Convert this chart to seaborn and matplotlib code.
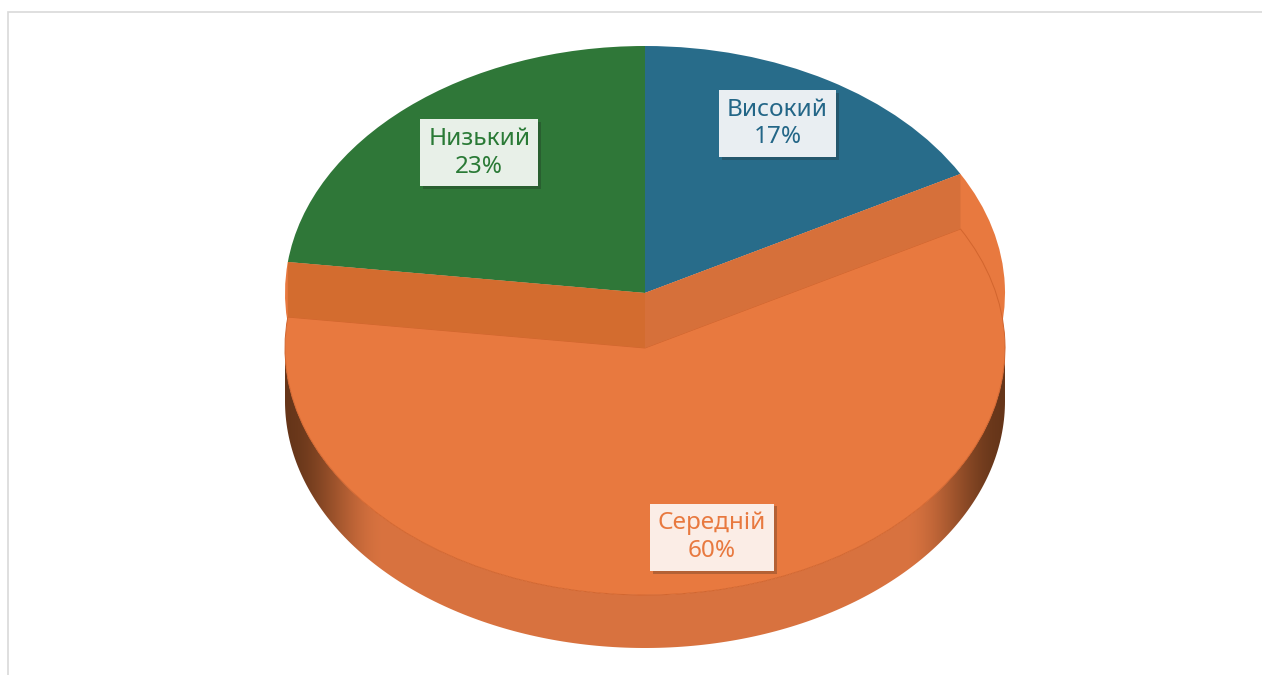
import numpy as np
import matplotlib
matplotlib.use("Agg")
import matplotlib.pyplot as plt
import matplotlib.patheffects as pe
from matplotlib.path import Path
from matplotlib.patches import PathPatch, Rectangle, Polygon
import seaborn as sns

# ---- data ----
categories = ["Високий", "Середній", "Низький"]
shares = [17, 60, 23]
pct_labels = ["17%", "60%", "23%"]

# ---- style ----
top_colors = ["#286C8A", "#E8793F", "#2F7738"]
band_colors = ["#D36C2F", "#D6703A"]
text_colors = ["#236687", "#E8793F", "#2A7A36"]
box_colors = ["#E9EEF2", "#FBEDE6", "#E8F0E8"]
label_nudge_px = [(-3, -12), (0, 0), (8, -5)]

sns.set_theme(style="white")
plt.rcParams["font.family"] = ["Noto Sans", "DejaVu Sans"]

W, H, DPI = 1262, 675, 100
fig = plt.figure(figsize=(W / DPI, H / DPI), dpi=DPI)
ax = fig.add_axes([0, 0, 1, 1])

# pixel geometry of the ellipse (top face)
cx, cy, rx, ry = 645, 293, 360, 247
drop = 55 / ry          # explode of the middle slice (downwards)
depth = 53 / ry         # thickness of the disc

# side wall of the exploded slice with horizontal shading
t = np.linspace(np.pi, 2 * np.pi, 200)
xs = np.cos(t)
upper = np.column_stack([xs, np.sin(t) - drop])
lower = np.column_stack([xs[::-1], np.sin(t[::-1]) - drop - depth])
verts = np.vstack([upper, lower, upper[:1]])
codes = [Path.MOVETO] + [Path.LINETO] * (len(verts) - 2) + [Path.CLOSEPOLY]
side = PathPatch(Path(verts, codes), facecolor="none", edgecolor="none")
ax.add_patch(side)
gx = np.linspace(-1, 1, 600)
u = np.clip((1 - np.abs(gx)) / 0.28, 0, 1)
f = u * u * (3 - 2 * u)
dark = np.array([0.40, 0.21, 0.10])
light = np.array([0.85, 0.45, 0.25])
grad = dark[None, :] + (light - dark)[None, :] * f[:, None]
img = ax.imshow(grad[None, :, :], extent=[-1, 1, -1 - drop - depth, -drop],
                aspect="auto", zorder=1, interpolation="bilinear")
img.set_clip_path(side)

# slices in place
ax.pie(shares, startangle=90, counterclock=False, radius=1, center=(0, 0),
       colors=top_colors, wedgeprops=dict(linewidth=0, zorder=2), frame=False)

# exploded top face of the middle slice
w2, _ = ax.pie(shares, startangle=90, counterclock=False, radius=1,
               center=(0, -drop), colors=["none", top_colors[1], "none"],
               wedgeprops=dict(linewidth=0, zorder=3), frame=False)
w2[1].set_edgecolor("#D2652E")
w2[1].set_linewidth(0.7)
for i in (0, 2):
    w2[i].set_visible(False)

# radial walls swept by the explode (dark bands)
bounds = np.cumsum([0] + shares) / np.sum(shares) * 360
for k, edge_deg in enumerate([bounds[2], bounds[1]]):
    a = np.deg2rad(edge_deg)
    px, py = np.sin(a), np.cos(a)
    ax.add_patch(Polygon([(0, 0), (px, py), (px, py - drop), (0, -drop)],
                         closed=True, facecolor=band_colors[k],
                         edgecolor="none", zorder=4))

ax.set_aspect("auto")
ax.set_xlim((0 - cx) / rx, (W - cx) / rx)
ax.set_ylim((cy - H) / ry, (cy - 0) / ry)
ax.axis("off")

# labels along each slice's mid-angle
mids = (bounds[:-1] + bounds[1:]) / 2
label_r = [0.74, 0.78, 0.73]
centers_y = [0, -drop, 0]
for i, cat in enumerate(categories):
    a = np.deg2rad(mids[i])
    x = label_r[i] * np.sin(a) + label_nudge_px[i][0] / rx
    y = centers_y[i] + label_r[i] * np.cos(a) - label_nudge_px[i][1] / ry
    if i == 1:
        x += 0.04
    txt = ax.text(x, y, f"{cat}\n{pct_labels[i]}", ha="center", va="center",
                  fontsize=17.5, color=text_colors[i], linespacing=1.2,
                  zorder=10,
                  bbox=dict(boxstyle="square,pad=0.32", fc=box_colors[i],
                            ec="none"))
    txt.get_bbox_patch().set_path_effects([
        pe.SimplePatchShadow(offset=(2, -2), shadow_rgbFace="k", alpha=0.25),
        pe.Normal()])

# light frame around the chart area
fig.patches.append(Rectangle((8 / W, -0.05), 1.1, (H - 12) / H + 0.05,
                             transform=fig.transFigure, fill=False,
                             edgecolor="#D9D9D9", linewidth=1.2))

fig.savefig("out.png", dpi=DPI, facecolor="white")
